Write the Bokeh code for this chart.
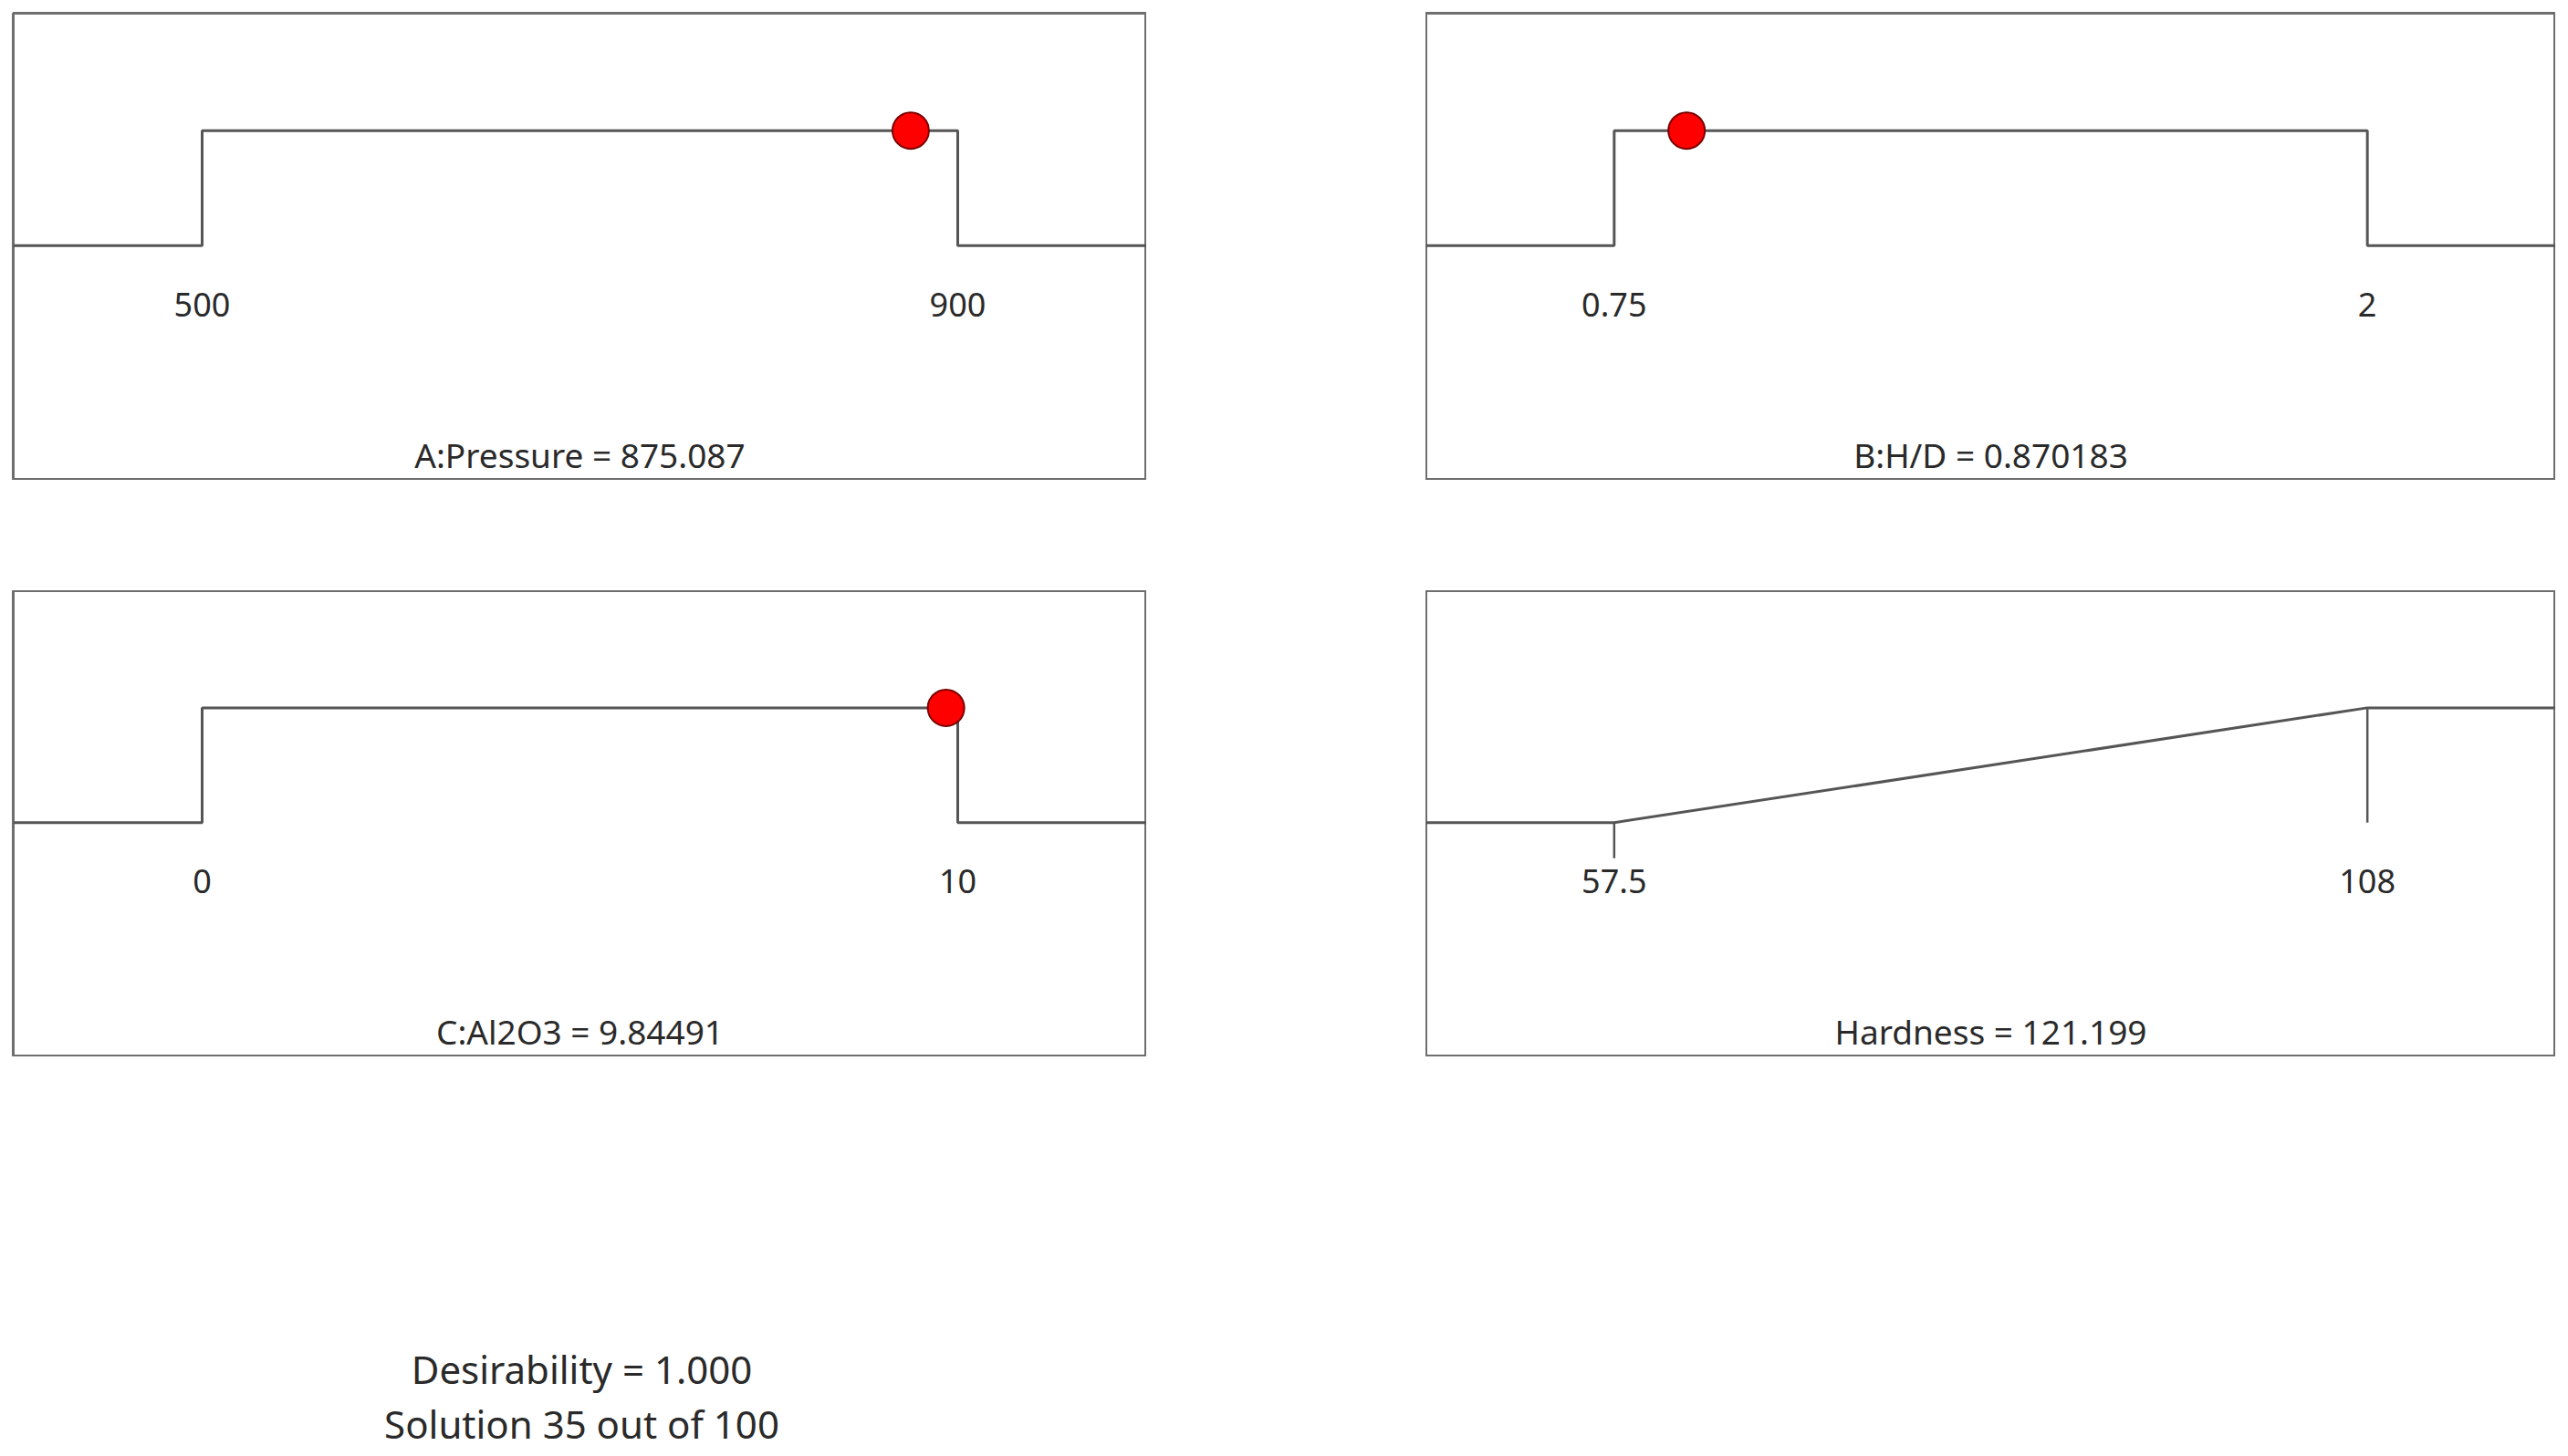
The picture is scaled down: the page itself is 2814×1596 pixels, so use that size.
from bokeh.plotting import figure
from bokeh.layouts import column, row, Spacer
from bokeh.models import Label
from bokeh.core.properties import value
from bokeh.embed import file_html
from bokeh.resources import INLINE

# ---- data ----
factor_names = ["A:Pressure", "B:H/D", "C:Al2O3", "Hardness"]
low_limits = [500, 0.75, 0, 57.5]
high_limits = [900, 2, 10, 108]
tick_labels = [["500", "900"], ["0.75", "2"], ["0", "10"], ["57.5", "108"]]
goals = ["in range", "in range", "in range", "maximize"]
solution_values = [875.087, 0.870183, 9.84491, 121.199]
show_marker = [True, True, True, False]
desirability = 1.000
solution_number = 35
solution_total = 100

FONT = "Noto Sans"
TXT = "#2a2a2a"
LINE = "#555555"
Y_BOTTOM, Y_TOP = -2.04, 2.02


def make_panel(i, frame_w, frame_h, left_b, top_b):
    lo, hi = low_limits[i], high_limits[i]
    span = hi - lo
    x0, x1 = lo - 0.25 * span, hi + 0.25 * span
    p = figure(frame_width=frame_w, frame_height=frame_h,
               x_range=(x0, x1), y_range=(Y_BOTTOM, Y_TOP),
               x_axis_location=None, y_axis_location=None,
               output_backend="svg", toolbar_location=None,
               min_border_left=left_b, min_border_right=0,
               min_border_top=top_b, min_border_bottom=0)
    p.grid.visible = False
    p.outline_line_color = "#6e6e6e"
    p.outline_line_width = 3
    if goals[i] == "in range":
        p.line([x0, lo, lo, hi, hi, x1], [0, 0, 1, 1, 0, 0],
               line_color=LINE, line_width=3)
    else:
        p.line([x0, lo, hi, x1], [0, 0, 1, 1], line_color=LINE, line_width=3)
        p.segment(x0=[hi, lo], y0=[1, 0], x1=[hi, lo], y1=[0, -0.31],
                  line_color=LINE, line_width=2.5)
    p.text(x=[lo, hi], y=[-0.51, -0.51], text=tick_labels[i],
           text_align="center", text_baseline="middle",
           text_font=value(FONT), text_font_size="36px", text_color=TXT)
    p.text(x=[(x0 + x1) / 2], y=[-1.82],
           text=[f"{factor_names[i]} = {solution_values[i]:g}"],
           text_align="center", text_baseline="middle",
           text_font=value(FONT), text_font_size="37px", text_color=TXT)
    if show_marker[i]:
        p.scatter(x=[solution_values[i]], y=[1], size=40,
                  fill_color="#ff0000", line_color="#7a0000", line_width=2)
    return p


p1 = make_panel(0, 1242, 512, 14, 14)
p2 = make_panel(1, 1238, 512, 0, 14)
p3 = make_panel(2, 1242, 511, 14, 0)
p4 = make_panel(3, 1238, 511, 0, 0)

tf = figure(width=1256, height=436, x_range=(0, 1), y_range=(0, 1),
            x_axis_location=None, y_axis_location=None,
            output_backend="svg", toolbar_location=None,
            min_border_left=0, min_border_right=0,
            min_border_top=0, min_border_bottom=0)
tf.grid.visible = False
tf.outline_line_color = None
tf.add_layout(Label(x=637, y=94, x_units="screen", y_units="screen",
                    text=f"Desirability = {desirability:.3f}",
                    text_align="center", text_baseline="middle",
                    text_font=FONT, text_font_size="42px", text_color=TXT))
tf.add_layout(Label(x=637, y=34, x_units="screen", y_units="screen",
                    text=f"Solution {solution_number} out of {solution_total}",
                    text_align="center", text_baseline="middle",
                    text_font=FONT, text_font_size="42px", text_color=TXT))

layout = column(
    row(p1, Spacer(width=306), p2),
    Spacer(height=121),
    row(p3, Spacer(width=306), p4),
    tf,
)

open("out.html", "w").write(file_html(layout, INLINE))
